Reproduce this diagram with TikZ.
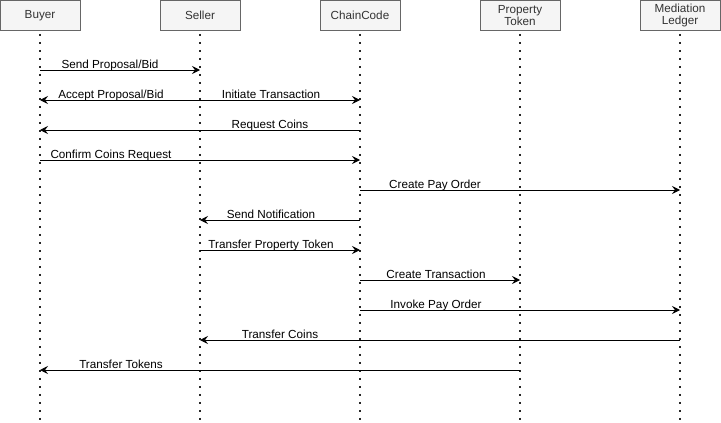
\documentclass[tikz,border=0pt]{standalone}
\usepackage{fontspec}
\setmainfont{Liberation Sans}
\usetikzlibrary{arrows.meta}
\definecolor{boxfill}{HTML}{F5F5F5}
\definecolor{boxline}{HTML}{666666}
\definecolor{boxtext}{HTML}{333333}
\begin{document}
\begin{tikzpicture}[x=1pt,y=-1pt,
  actor/.style={draw=boxline,fill=boxfill,text=boxtext,minimum width=80pt,minimum height=30pt,inner sep=0pt,align=center,font=\fontsize{11.7}{12.5}\selectfont,line width=0.8pt},
  life/.style={line width=2pt,dash pattern=on 2pt off 6pt,dash phase=-3pt,black!85},
  msg/.style={-{Stealth[length=8pt,width=8pt,inset=3pt]},line width=0.9pt},
  lbl/.style={font=\fontsize{11.7}{12}\selectfont,inner sep=0pt,anchor=base}]
\useasboundingbox (0,0) rectangle (721,423);
\node[actor] (buyer) at (40,15.5) {Buyer};
\node[actor] (seller) at (200,15.5) {Seller};
\node[actor] (chain) at (360,15.5) {ChainCode};
\node[actor] (token) at (520,15.5) {Property\\[-1pt]Token};
\node[actor] (ledger) at (680,15.5) {Mediation\\[-1pt]Ledger};
\foreach \n/\x in {buyer/40,seller/200,chain/360,token/520,ledger/680}{
  \coordinate (\n end) at (\x,423);
  \draw[life] (\n.south) -- (\n end);
  \foreach \y in {70,100,130,160,190,220,250,280,310,340,370}{
    \coordinate (\n\y) at (\x,\y);
  }
}
\draw[msg] (buyer70) -- (seller70);
\node[lbl] (l1) at (110,68.5) {Send Proposal/Bid};
\draw[msg] (seller100) -- (buyer100);
\node[lbl] (l2) at (111,98.5) {Accept Proposal/Bid};
\draw[msg] (seller100) -- (chain100);
\node[lbl] (l3) at (271,98.5) {Initiate Transaction};
\draw[msg] (chain130) -- (buyer130);
\node[lbl] (l4) at (270,128.5) {Request Coins};
\draw[msg] (buyer160) -- (chain160);
\node[lbl] (l5) at (111,158.5) {Confirm Coins Request};
\draw[msg] (chain190) -- (ledger190);
\node[lbl] (l6) at (435,188.5) {Create Pay Order};
\draw[msg] (chain220) -- (seller220);
\node[lbl] (l7) at (271,218.5) {Send Notification};
\draw[msg] (seller250) -- (chain250);
\node[lbl] (l8) at (271,248.5) {Transfer Property Token};
\draw[msg] (chain280) -- (token280);
\node[lbl] (l9) at (436,278.5) {Create Transaction};
\draw[msg] (chain310) -- (ledger310);
\node[lbl] (l10) at (436,308.5) {Invoke Pay Order};
\draw[msg] (ledger340) -- (seller340);
\node[lbl] (l11) at (280,338.5) {Transfer Coins};
\draw[msg] (token370) -- (buyer370);
\node[lbl] (l12) at (121,368.5) {Transfer Tokens};
\end{tikzpicture}
\end{document}
